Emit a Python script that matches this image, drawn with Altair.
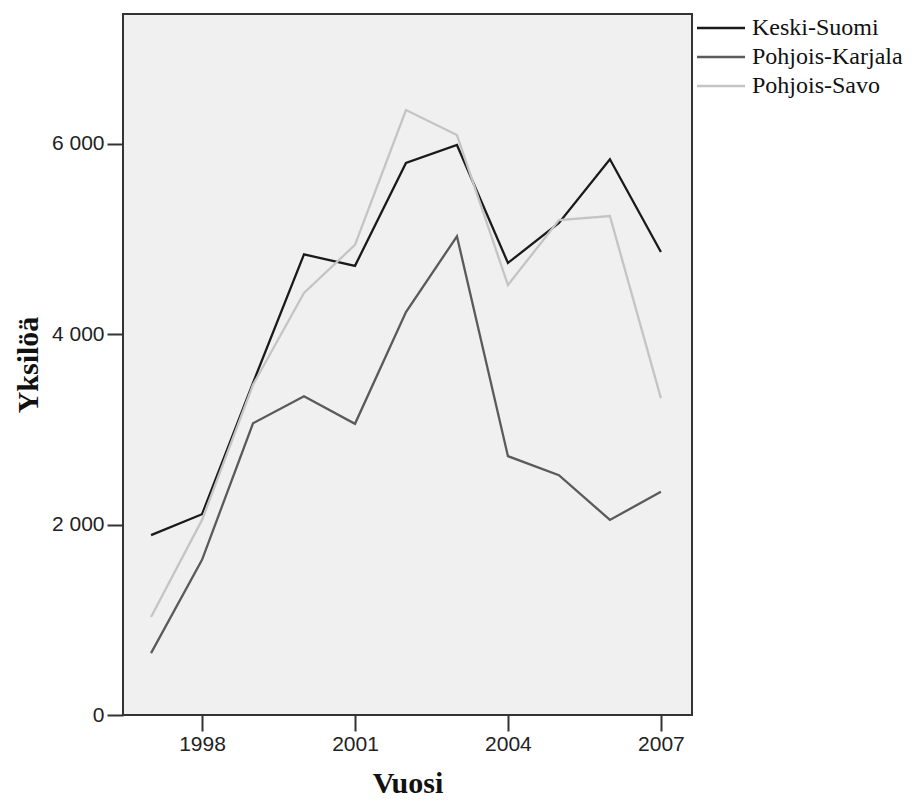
import altair as alt
import pandas as pd

years = list(range(1997, 2008))
keski_suomi = [1890, 2110, 3490, 4840, 4720, 5800, 5990, 4750, 5170, 5840, 4865]
pohjois_karjala = [650, 1630, 3065, 3350, 3060, 4234, 5030, 2720, 2520, 2050, 2345]
pohjois_savo = [1030, 2050, 3470, 4434, 4940, 6357, 6094, 4518, 5200, 5243, 3330]

series_names = ["Keski-Suomi", "Pohjois-Karjala", "Pohjois-Savo"]
series_colors = ["#1a1a1a", "#5a5a5a", "#c4c4c4"]
x_ticks = [1998, 2001, 2004, 2007]
y_ticks = [0, 2000, 4000, 6000]

rows = []
for name, vals in zip(series_names, [keski_suomi, pohjois_karjala, pohjois_savo]):
    for yr, v in zip(years, vals):
        rows.append({"Vuosi": yr, "Yksilöä": v, "Alue": name})
df = pd.DataFrame(rows)

chart = alt.Chart(df).mark_line(strokeWidth=2.3).encode(
    x=alt.X("Vuosi:Q",
            scale=alt.Scale(domain=[1996.45, 2007.61], nice=False, zero=False),
            axis=alt.Axis(values=x_ticks, format="d", title="Vuosi",
                          grid=False, domain=False, tickSize=16, tickWidth=2,
                          tickColor="#333333", labelPadding=2,
                          labelFont="Liberation Sans", labelFontSize=21,
                          labelColor="#222222",
                          titleFont="Liberation Serif", titleFontSize=30,
                          titleFontWeight="bold", titleColor="#111111",
                          titleBaseline="alphabetic", titleY=77)),
    y=alt.Y("Yksilöä:Q",
            scale=alt.Scale(domain=[0, 7366], nice=False),
            axis=alt.Axis(values=y_ticks, title="Yksilöä",
                          labelExpr="replace(format(datum.value, ','), ',', ' ')",
                          grid=False, domain=False, tickSize=16, tickWidth=2,
                          tickColor="#333333", labelPadding=3,
                          labelFont="Liberation Sans", labelFontSize=21,
                          labelColor="#222222",
                          titleFont="Liberation Serif", titleFontSize=30,
                          titleFontWeight="bold", titleColor="#111111",
                          titleBaseline="alphabetic", titleX=-86)),
    color=alt.Color("Alue:N",
                    scale=alt.Scale(domain=series_names, range=series_colors),
                    legend=alt.Legend(title=None, orient="none",
                                      legendX=581.5, legendY=-2.5,
                                      symbolType="M-1.6,0H1.6", symbolSize=900,
                                      symbolStrokeWidth=2.3,
                                      labelFont="Liberation Serif",
                                      labelFontSize=24, labelColor="#111111",
                                      labelOffset=14.5, rowPadding=0)),
).properties(
    width=569, height=701,
    padding={"left": 115, "top": 6, "right": 212, "bottom": 84},
    autosize=alt.AutoSizeParams(type="none"),
    background="white",
).configure_view(
    fill="#f0f0f0", stroke="#333333", strokeWidth=2
)

chart.save("out.html", embed_options={"renderer": "svg", "actions": False})
